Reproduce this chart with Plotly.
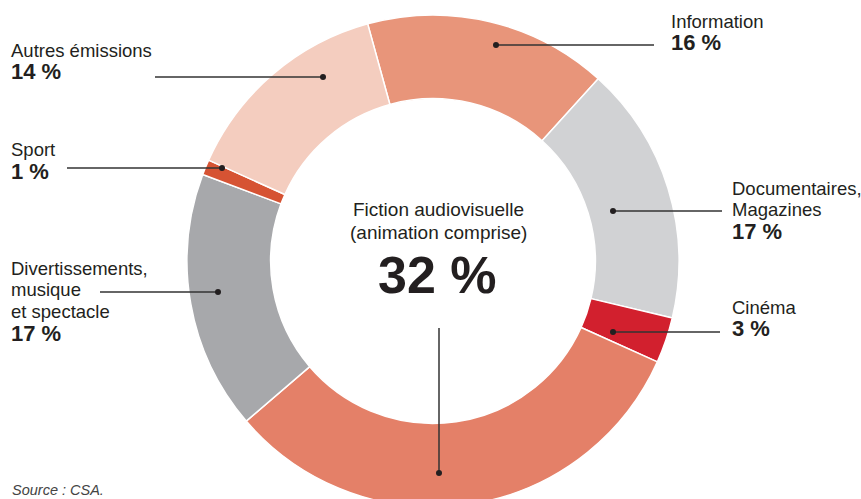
import plotly.graph_objects as go

# ---- data ----
categories = ["Information", "Documentaires,<br>Magazines", "Cinéma",
              "Fiction audiovisuelle<br>(animation comprise)",
              "Divertissements,<br>musique<br>et spectacle", "Sport", "Autres émissions"]
values = [16, 17, 3, 32, 17, 1, 14]
colors = ["#E8957A", "#D1D2D4", "#D2202E", "#E48068", "#A7A8AB", "#D65333", "#F4CDBF"]
source_text = "Source : CSA."

W, H = 861, 508          # figure slightly taller than the 499 window: donut is cut at the bottom
FONT = "Liberation Sans, Arial, sans-serif"
INK = "#231F20"
SIZE, PSIZE = 18.5, 22

fig = go.Figure()
fig.add_trace(go.Pie(
    labels=[c.replace("<br>", " ") for c in categories],
    values=values,
    marker=dict(colors=colors, line=dict(color="white", width=1.5)),
    hole=0.66, sort=False, direction="clockwise", rotation=-15.4,
    textinfo="none", hoverinfo="label+percent", showlegend=False,
    domain=dict(x=[187 / W, 679 / W], y=[(H - 507) / H, (H - 15) / H]),
))

def px(x):
    return x / W

def py(y):
    return 1 - y / H

annotations = []
shapes = []

def label(lines, pct, x, y0, pitch, anchor="left"):
    for i, t in enumerate(lines):
        annotations.append(dict(x=px(x), y=py(y0 + i * pitch), xref="paper", yref="paper",
                                text=t, showarrow=False, xanchor=anchor, yanchor="middle",
                                font=dict(family=FONT, size=SIZE, color=INK)))
    annotations.append(dict(x=px(x), y=py(y0 + len(lines) * pitch), xref="paper", yref="paper",
                            text="<b>%d %%</b>" % pct, showarrow=False, xanchor=anchor, yanchor="middle",
                            font=dict(family=FONT, size=PSIZE, color=INK)))

def leader(x0, y0, x1, y1):
    shapes.append(dict(type="line", xref="paper", yref="paper", x0=px(x0), y0=py(y0),
                       x1=px(x1), y1=py(y1), line=dict(color="#333333", width=1.5)))
    shapes.append(dict(type="circle", xref="paper", yref="paper",
                       x0=px(x1 - 3), x1=px(x1 + 3), y0=py(y1 - 3), y1=py(y1 + 3),
                       fillcolor="#231F20", line=dict(width=0)))

# label layout (pixel positions)
label(["Information"], values[0], 669, 21, 21.5)
leader(654, 45, 496, 45)
label(["Documentaires,", "Magazines"], values[1], 730, 188, 21.5)
leader(722, 211, 613, 211)
label(["Cinéma"], values[2], 730, 307, 21.5)
leader(720, 332, 613, 332)
label(["Divertissements,", "musique", "et spectacle"], values[4], 9, 268, 21.7)
leader(100, 292, 218, 292)
label(["Sport"], values[5], 9, 150, 21.5)
leader(67, 168, 222, 168)
label(["Autres émissions"], values[6], 9, 50, 21.5)
leader(155, 77, 323, 77)

# center label for fiction
annotations.append(dict(x=px(438), y=py(210), xref="paper", yref="paper", text="Fiction audiovisuelle",
                        showarrow=False, xanchor="center", yanchor="middle",
                        font=dict(family=FONT, size=19, color=INK)))
annotations.append(dict(x=px(438), y=py(232), xref="paper", yref="paper", text="(animation comprise)",
                        showarrow=False, xanchor="center", yanchor="middle",
                        font=dict(family=FONT, size=19, color=INK)))
annotations.append(dict(x=px(437), y=py(275), xref="paper", yref="paper", text="<b>%d %%</b>" % values[3],
                        showarrow=False, xanchor="center", yanchor="middle",
                        font=dict(family=FONT, size=52, color=INK)))
leader(439, 328, 439, 473)

annotations.append(dict(x=px(10), y=py(490), xref="paper", yref="paper", text="<i>%s</i>" % source_text,
                        showarrow=False, xanchor="left", yanchor="middle",
                        font=dict(family=FONT, size=14.5, color="#444444")))

fig.update_layout(width=W, height=H, margin=dict(l=0, r=0, t=0, b=0),
                  paper_bgcolor="white", plot_bgcolor="white",
                  annotations=annotations, shapes=shapes)

fig.write_html("out.html", config={"displayModeBar": False},
               post_script="document.body.style.margin='0';document.body.style.overflow='hidden';")
